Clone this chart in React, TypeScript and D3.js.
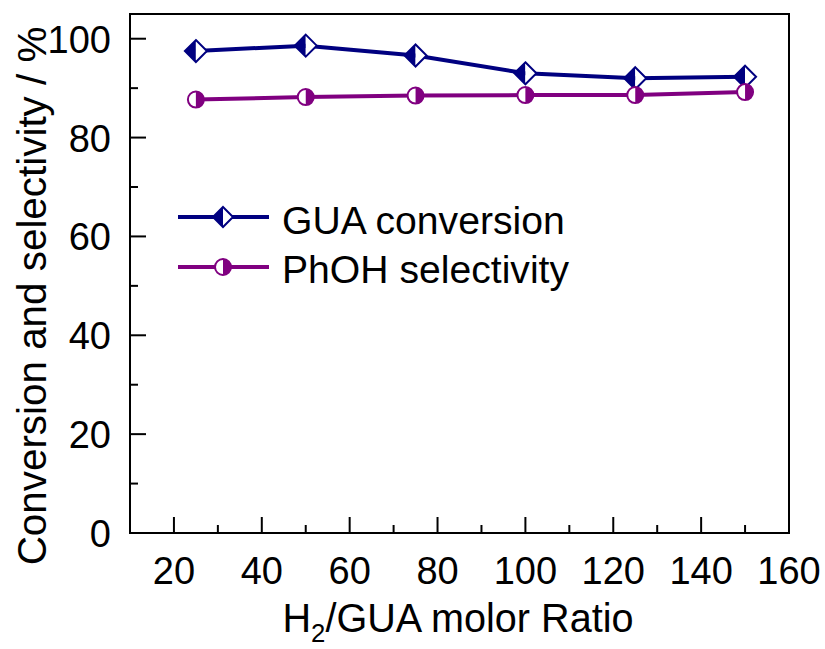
import React from "react";
import * as d3 from "d3";

// H2/GUA molar ratios and measured values (%)
const ratios = [25, 50, 75, 100, 125, 150];
const guaConversion = [97.5, 98.6, 96.6, 93.0, 92.0, 92.3];
const phohSelectivity = [87.7, 88.2, 88.5, 88.6, 88.6, 89.2];

const xTickValues = [20, 40, 60, 80, 100, 120, 140, 160];
const xMinorValues = [30, 50, 70, 90, 110, 130, 150];
const yTickValues = [0, 20, 40, 60, 80, 100];
const yMinorValues = [10, 30, 50, 70, 90];

const seriesNames = ["GUA conversion", "PhOH selectivity"];

const W = 825;
const H = 649;
const left = 130;
const right = 789;
const top = 14;
const bottom = 533;

const NAVY = "#000080";
const PURPLE = "#800080";
const FONT = "'Liberation Sans', Arial, sans-serif";

function Diamond({ cx, cy, r }: { cx: number; cy: number; r: number }) {
  return (
    <g>
      <path d={`M${cx},${cy - r}L${cx},${cy + r}L${cx - r},${cy}Z`} fill={NAVY} />
      <path d={`M${cx},${cy - r}L${cx + r},${cy}L${cx},${cy + r}Z`} fill="#fff" />
      <path
        d={`M${cx},${cy - r}L${cx + r},${cy}L${cx},${cy + r}L${cx - r},${cy}Z`}
        fill="none"
        stroke={NAVY}
        strokeWidth={2}
      />
    </g>
  );
}

function HalfCircle({ cx, cy, r }: { cx: number; cy: number; r: number }) {
  return (
    <g>
      <circle cx={cx} cy={cy} r={r} fill="#fff" stroke={PURPLE} strokeWidth={2} />
      <path d={`M${cx},${cy - r}A${r},${r} 0 0 1 ${cx},${cy + r}Z`} fill={PURPLE} />
    </g>
  );
}

export default function App() {
  const x = d3.scaleLinear().domain([10, 160]).range([left, right]);
  const y = d3.scaleLinear().domain([0, 105]).range([bottom, top]);

  const line = d3
    .line<[number, number]>()
    .x((d) => x(d[0]))
    .y((d) => y(d[1]));

  const guaPts = ratios.map((r, i) => [r, guaConversion[i]] as [number, number]);
  const phPts = ratios.map((r, i) => [r, phohSelectivity[i]] as [number, number]);

  const tickFs = 38;

  return (
    <svg
      width={W}
      height={H}
      style={{ position: "absolute", left: 0, top: 0, background: "#fff" }}
      fontFamily={FONT}
    >
      <rect x={0} y={0} width={W} height={H} fill="#fff" />

      {/* frame */}
      <rect
        x={left}
        y={top}
        width={right - left}
        height={bottom - top}
        fill="none"
        stroke="#000"
        strokeWidth={2}
      />

      {/* x ticks */}
      {xTickValues.map((v) => (
        <line key={"xt" + v} x1={x(v)} x2={x(v)} y1={bottom} y2={bottom - 16} stroke="#000" strokeWidth={2} />
      ))}
      {xMinorValues.map((v) => (
        <line key={"xm" + v} x1={x(v)} x2={x(v)} y1={bottom} y2={bottom - 8} stroke="#000" strokeWidth={2} />
      ))}
      {xTickValues.map((v) => (
        <text key={"xl" + v} x={x(v)} y={584} textAnchor="middle" fontSize={tickFs} fill="#000">
          {v}
        </text>
      ))}

      {/* y ticks */}
      {yTickValues.map((v) => (
        <line key={"yt" + v} x1={left} x2={left + 16} y1={y(v)} y2={y(v)} stroke="#000" strokeWidth={2} />
      ))}
      {yMinorValues.map((v) => (
        <line key={"ym" + v} x1={left} x2={left + 8} y1={y(v)} y2={y(v)} stroke="#000" strokeWidth={2} />
      ))}
      {yTickValues.map((v) => (
        <text key={"yl" + v} x={111} y={y(v) + 14} textAnchor="end" fontSize={tickFs} fill="#000">
          {v}
        </text>
      ))}

      {/* axis titles */}
      <text transform="translate(458,632) scale(0.99,1)" textAnchor="middle" fontSize={40} fill="#000">
        H<tspan fontSize={26} dy={10}>2</tspan>
        <tspan dy={-10}>/GUA molor Ratio</tspan>
      </text>
      <text
        transform="translate(46,296) rotate(-90) scale(1.01,1)"
        textAnchor="middle"
        fontSize={40}
        fill="#000"
      >
        Conversion and selectivity / %
      </text>

      {/* series */}
      <path d={line(guaPts) ?? ""} fill="none" stroke={NAVY} strokeWidth={4} strokeLinejoin="round" />
      <path d={line(phPts) ?? ""} fill="none" stroke={PURPLE} strokeWidth={4} strokeLinejoin="round" />
      {guaPts.map((p, i) => (
        <Diamond key={"d" + i} cx={x(p[0])} cy={y(p[1])} r={11} />
      ))}
      {phPts.map((p, i) => (
        <HalfCircle key={"c" + i} cx={x(p[0])} cy={y(p[1])} r={8} />
      ))}

      {/* legend */}
      <line x1={178} x2={269} y1={217} y2={217} stroke={NAVY} strokeWidth={4} />
      <Diamond cx={223} cy={217} r={10} />
      <text transform="translate(282,234) scale(1.03,1)" fontSize={38} fill="#000">
        {seriesNames[0]}
      </text>
      <line x1={178} x2={269} y1={267} y2={267} stroke={PURPLE} strokeWidth={4} />
      <HalfCircle cx={223} cy={267} r={8} />
      <text transform="translate(282,283) scale(1.03,1)" fontSize={38} fill="#000">
        {seriesNames[1]}
      </text>
    </svg>
  );
}
